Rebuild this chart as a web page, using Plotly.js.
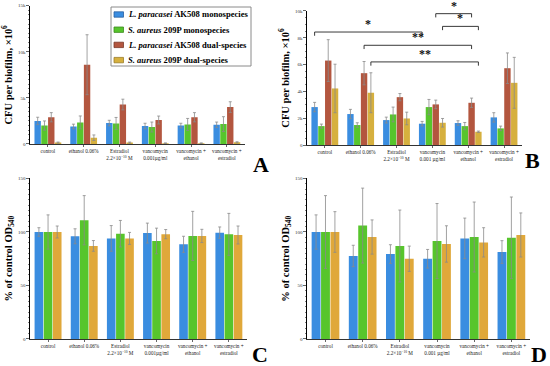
<!DOCTYPE html>
<html><head><meta charset="utf-8">
<script src="https://cdn.plot.ly/plotly-3.0.1.min.js"></script>
<style>html,body{margin:0;padding:0;background:#fff}#chart{width:550px;height:366px}</style>
</head><body><div id="chart"></div>
<script>
// ---- categories ----
const catsA = ["control","ethanol 0.06%","Estradiol<br>2.2×10<sup>−10</sup> M","vancomycin<br>0.001µg/ml","vancomycin +<br>ethanol","vancomycin +<br>estradiol"];
const catsB = ["control","ethanol 0.06%","Estradiol<br>2.2×10<sup>−10</sup> M","vancomycin<br>0.001 µg/ml","vancomycin +<br>ethanol","vancomycin +<br>estradiol"];
const seriesNames = ["<i>L. paracasei</i> AK508 monospecies","<i>S. aureus</i> 209P monospecies","<i>L. paracasei</i> AK508 dual-species","<i>S. aureus</i> 209P dual-species"];

// ---- Panel A: CFU per biofilm ×10^6 ----
const A_lpMono = [2500,1900,2270,1950,2000,2090];
const A_lpMonoErr = [400,250,300,300,250,290];
const A_saMono = [2000,2340,2230,1840,2120,2160];
const A_saMonoErr = [500,700,650,540,650,800];
const A_lpDual = [2900,8600,4280,2600,2900,4000];
const A_lpDualErr = [500,3250,580,430,500,580];
const A_saDual = [150,680,150,80,80,180];
const A_saDualErr = [60,300,60,40,40,60];

// ---- Panel B ----
const B_lpMono = [2830,2310,1860,1590,1640,2060];
const B_lpMonoErr = [350,350,220,170,170,350];
const B_saMono = [1410,1490,2280,2830,1410,1240];
const B_saMonoErr = [150,170,550,570,270,170];
const B_lpDual = [6300,5360,3570,3030,3150,5730];
const B_lpDualErr = [1560,870,270,320,350,1140];
const B_saDual = [4220,3900,1980,1660,990,4640];
const B_saDualErr = [1810,1490,470,320,50,1900];

// significance brackets in B (group index from/to, series index, level, label)
const sigFromGroup = [0,1,1,3,3];
const sigToGroup   = [3,4,4,4,4];
const sigSeries    = [0,2,3,2,3];
const sigLevel     = [8430,7440,6200,9800,8850];
const sigLabel     = ["*","**","**","*","*"];

// ---- Panel C: % of control OD540 ----
const C_lp = [100,96,94,99,88.5,99.4];
const C_lpErr = [4,7,12,9.3,7.5,5.3];
const C_sa = [100,111,98.4,91.6,96.3,97.8];
const C_saErr = [16,23,12.4,12,23,19.6];
const C_dual = [100,87,94,98,96.3,97.2];
const C_dualErr = [5.6,5,5.6,4.3,6.2,8.4];

// ---- Panel D ----
const D_lp = [100,77.6,79.4,75,94,81.3];
const D_lpErr = [16,10,8.7,8.7,19,10.6];
const D_sa = [100,106,86.9,91.6,95.3,94.7];
const D_saErr = [34,35,33.6,35,32.7,38];
const D_dual = [100,95.3,75,88.8,90.3,97.2];
const D_dualErr = [19,16,11.8,17,13.7,20.6];

const colors = ["#3a8de0","#57c52c","#b3563f","#d6b03e"];
const edgeColors = ["#2a5fa0","#3c8a20","#7a3a2a","#9a7e2a"];
const dualColor = "#e0a83a";
const serif = "Liberation Serif, DejaVu Serif, serif";

function bar(x, y, err, color, xa, ya, name){
  return {type:"bar", x:x, y:y, name:name, showlegend:false,
    marker:{color:color, line:{width:0}}, xaxis:xa, yaxis:ya,
    error_y:{type:"data", array:err, visible:true, color:"#8a8a8a", thickness:0.8, width:1.5}};
}

const data = [
  bar(catsA,A_lpMono,A_lpMonoErr,colors[0],"x","y",seriesNames[0]),
  bar(catsA,A_saMono,A_saMonoErr,colors[1],"x","y",seriesNames[1]),
  bar(catsA,A_lpDual,A_lpDualErr,colors[2],"x","y",seriesNames[2]),
  bar(catsA,A_saDual,A_saDualErr,colors[3],"x","y",seriesNames[3]),
  bar(catsB,B_lpMono,B_lpMonoErr,colors[0],"x2","y2",seriesNames[0]),
  bar(catsB,B_saMono,B_saMonoErr,colors[1],"x2","y2",seriesNames[1]),
  bar(catsB,B_lpDual,B_lpDualErr,colors[2],"x2","y2",seriesNames[2]),
  bar(catsB,B_saDual,B_saDualErr,colors[3],"x2","y2",seriesNames[3]),
  bar(catsA,C_lp,C_lpErr,colors[0],"x3","y3","c1"),
  bar(catsA,C_sa,C_saErr,colors[1],"x3","y3","c2"),
  bar(catsA,C_dual,C_dualErr,dualColor,"x3","y3","c3"),
  bar(catsB,D_lp,D_lpErr,colors[0],"x4","y4","d1"),
  bar(catsB,D_sa,D_saErr,colors[1],"x4","y4","d2"),
  bar(catsB,D_dual,D_dualErr,dualColor,"x4","y4","d3")
];

const bargap = 0.24;
function barPos(group, series, n){
  const w = (1-bargap)/n;
  return group - (1-bargap)/2 + (series+0.5)*w;
}

const shapes = [], annotations = [];
for(let i=0;i<sigLevel.length;i++){
  const x0 = barPos(sigFromGroup[i], sigSeries[i], 4);
  const x1 = barPos(sigToGroup[i], sigSeries[i], 4);
  const lv = sigLevel[i], drop = 280;
  shapes.push({type:"path", xref:"x2", yref:"y2",
    path:`M ${x0},${lv-drop} L ${x0},${lv} L ${x1},${lv} L ${x1},${lv-drop}`,
    line:{color:"#222", width:0.9}});
  annotations.push({xref:"x2", yref:"y2", x:(x0+x1)/2, y:lv, text:"<b>"+sigLabel[i]+"</b>",
    showarrow:false, yanchor:"bottom", yshift:-1, font:{family:serif, size:12, color:"#111"}});
}

// legend (drawn manually in panel A to match compact spacing)
const W = 550, H = 366;
const px = v => v/W, py = v => 1 - v/H;
shapes.push({type:"rect", xref:"paper", yref:"paper", x0:px(111), x1:px(251), y0:py(66), y1:py(7),
  line:{color:"#8a8a8a", width:1}, fillcolor:"#fff", layer:"above"});
seriesNames.forEach((nm,i)=>{
  const cy = 14.5 + i*15.2;
  shapes.push({type:"rect", xref:"paper", yref:"paper", x0:px(114), x1:px(123.5), y0:py(cy+2.7), y1:py(cy-2.7),
    fillcolor:colors[i], line:{color:edgeColors[i], width:0.8}, layer:"above"});
  annotations.push({xref:"paper", yref:"paper", x:px(125.5), y:py(cy), xanchor:"left", yanchor:"middle",
    text:"<b>"+nm+"</b>", showarrow:false, font:{family:serif, size:8.6, color:"#000"}});
});

const letters = [["A",0.492,0.512],["B",0.985,0.522],["C",0.49,-0.008],["D",0.999,-0.008]];
letters.forEach(l=>annotations.push({xref:"paper", yref:"paper", x:l[1], y:l[2], text:"<b>"+l[0]+"</b>",
  showarrow:false, xanchor:"right", yanchor:"bottom", font:{family:serif, size:22, color:"#000"}}));

function xax(domain, anchor){
  return {domain:domain, anchor:anchor, type:"category", showline:true, linecolor:"#000", linewidth:0.8,
    ticks:"outside", ticklen:2, tickcolor:"#000", tickwidth:0.6, showgrid:false, zeroline:false,
    tickfont:{family:serif, size:5.2, color:"#222"}, tickangle:0, fixedrange:true};
}
function yax(domain, anchor, range, dtick, minor, title){
  return {domain:domain, anchor:anchor, range:range, dtick:dtick, showline:true, linecolor:"#000", linewidth:1,
    ticks:"outside", ticklen:2.5, tickcolor:"#000", tickwidth:0.6, showgrid:false, zeroline:false,
    minor:{ticks:"outside", ticklen:1.3, dtick:minor, tickcolor:"#000", tickwidth:0.5, showgrid:false},
    tickfont:{family:serif, size:5, color:"#333"},
    title:{text:title, font:{family:serif, size:10.5, color:"#000"}, standoff:3}};
}
const cfuTitle = "<b>CFU per biofilm, ×10<sup>6</sup></b>";
const odTitle = "<b>% of control OD<sub>540</sub></b>";

const layout = {
  width:550, height:366, margin:{l:0,r:0,t:0,b:0}, paper_bgcolor:"#fff", plot_bgcolor:"#fff",
  barmode:"group", bargap:bargap, bargroupgap:0.06, showlegend:false,
  xaxis: xax([0.0545,0.445],"y"),
  yaxis: yax([0.6066,0.9844],"x",[0,15000],5000,500,cfuTitle),
  xaxis2: xax([0.558,0.949],"y2"),
  yaxis2: yax([0.6038,0.97],"x2",[0,10000],2000,500,cfuTitle),
  xaxis3: xax([0.0545,0.449],"y3"),
  yaxis3: yax([0.0738,0.5123],"x3",[0,150],50,5,odTitle),
  xaxis4: xax([0.558,0.9636],"y4"),
  yaxis4: yax([0.0738,0.5123],"x4",[0,150],50,5,odTitle),
  shapes:shapes, annotations:annotations
};
Plotly.newPlot("chart", data, layout, {staticPlot:true, displayModeBar:false});
</script></body></html>
